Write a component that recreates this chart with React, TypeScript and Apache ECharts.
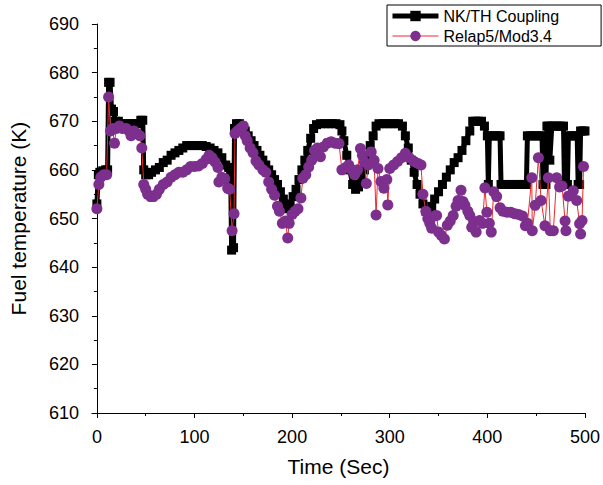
import React, { useEffect, useRef } from "react";
import * as echarts from "echarts";

const FONT = "'Liberation Sans', Arial, sans-serif";

const nkTime = [
  0, 1.5, 3, 6, 9, 11, 12, 13.5, 15, 17, 19, 22, 26, 30, 34, 38, 42, 45, 47, 48,
  50, 53, 56, 60, 64, 68, 72, 76, 80, 84, 88, 92, 96, 100, 104, 108, 112, 116, 120, 124,
  128, 132, 135, 137, 138, 140, 141, 143, 146, 149, 152, 155, 158, 161, 164, 167, 170, 173, 176, 179,
  182, 185, 188, 191, 194, 196, 198, 201, 204, 207, 210, 213, 216, 219, 222, 225, 229, 233, 237, 241,
  245, 249, 251, 253, 256, 259, 262, 265, 268, 271, 274, 277, 280, 283, 286, 289, 293, 297, 301, 305,
  309, 313, 316, 319, 322, 325, 328, 331, 334, 337, 340, 343, 346, 350, 354, 358, 362, 366, 370, 374,
  378, 382, 385, 388, 391, 394, 397, 400, 401, 402, 405, 408, 411, 413, 414, 418, 422, 426, 430, 434,
  438, 440, 441, 444, 447, 450, 453, 456, 457, 460, 461, 463, 464, 466, 469, 472, 475, 478, 479, 482,
  483, 486, 489, 492, 493, 494.5, 495.5, 498, 500
];
const nkTemp = [
  653, 659, 659.5, 659.8, 660, 660, 678, 678, 672.5, 672, 670, 670, 669.5, 669.5, 669.5, 669.5, 669.5, 670.2, 670.2, 660,
  659, 659, 659.5, 660, 660.5, 661.5, 662, 663, 663.5, 664, 664.5, 665, 665, 665, 665, 665, 664.8, 664.5, 664, 663.5,
  662.5, 661, 660.5, 660, 643.5, 644, 668.5, 669.5, 669.5, 669, 668, 667, 666, 665, 664, 663, 662, 661, 660, 659,
  658, 657, 655.5, 654, 652.5, 652, 653, 654.5, 656, 658, 660, 662, 664, 666.5, 668.5, 669.3, 669.5, 669.5, 669.5, 669.5,
  669.5, 669.3, 668, 666, 663, 660, 657, 656, 656.5, 658, 660, 662.5, 665, 667, 669, 669.5, 669.5, 669.5, 669.5, 669.5,
  669.5, 669, 667, 664.5, 662, 659.5, 657, 655, 653, 651.5, 651.5, 652.5, 654, 655.5, 657, 658.5, 660, 661.5, 662.5, 664,
  666, 668, 670, 670, 670, 670, 669, 667, 657, 667, 667, 667, 667, 667, 657, 657, 657, 657, 657, 657,
  657, 657, 667, 667, 667, 667, 667, 667, 657, 657, 669, 669, 662, 669, 669, 669, 669, 669, 657, 657,
  667, 667, 667, 667, 657, 657, 668, 668, 668
];

const relapTime = [
  0, 2, 4, 7, 10, 12, 14, 16, 18, 20, 23, 26, 30, 33, 35, 38, 41, 44, 46, 48,
  50, 52, 55, 58, 61, 64, 68, 72, 76, 80, 84, 88, 92, 96, 100, 104, 108, 112, 115, 118,
  121, 124, 125, 128, 131, 134, 136, 138.5, 140.5, 141.5, 144, 147, 150, 152, 154, 157, 160, 163, 166, 170,
  173, 176, 179, 182, 185, 187, 190, 193, 195.5, 197, 200, 203, 206, 209, 211, 214, 217, 220, 223, 226,
  229, 232, 236, 240, 244, 248, 251, 255, 258, 261, 264, 267, 270, 272, 274, 276, 278, 281, 284, 286,
  288, 291, 294, 297, 298, 300, 304, 308, 312, 316, 320, 325, 329, 332, 334, 337, 339, 341, 343, 346,
  348, 350, 353, 356, 359, 362, 365, 368, 370, 373, 375, 377, 380, 382, 384, 386, 388.5, 392, 395, 397.5,
  399.5, 402, 404, 406.5, 409.5, 413, 416, 420, 424, 428, 432, 436, 439, 441, 445.5, 446, 449, 452.3, 455, 459,
  462.5, 464.5, 467.6, 471, 474, 476.5, 479.6, 480.5, 483, 488, 491.5, 494.5, 495.5, 497, 498.5
];
const relapTemp = [
  652, 657, 658.5, 659, 659, 675, 668, 668.5, 665.5, 668.5, 669, 668.5, 668.5, 668, 667, 668, 667.5, 667, 664.5, 657,
  656, 655, 654.5, 654.5, 655, 656, 657, 657.5, 658.5, 659, 659.5, 659.5, 660, 660.7, 660.7, 660.8, 661.3, 662.2, 663, 662.5,
  661.6, 660.5, 657.5, 658.5, 658.2, 656.2, 656, 647.5, 651, 667.5, 668, 668.5, 669, 667, 666, 664.5, 663.5, 661.8, 661, 660,
  659.5, 657.5, 656, 654.8, 652.5, 651.5, 649, 649.5, 646, 649, 650.8, 651.5, 652, 654.2, 658.3, 659, 660.6, 662, 664, 664.5,
  662.7, 664.7, 665.5, 665.8, 665.5, 665.4, 660, 660.5, 661, 660, 659, 660, 664.4, 663, 661.6, 657.2, 661, 663.7, 662, 650.7,
  660.3, 657.6, 656.2, 658, 652.8, 660.3, 661, 661.7, 662.5, 663.4, 662.5, 661.7, 661.3, 661, 655, 651.5, 650, 649, 648, 650.5,
  650.6, 647.2, 646.5, 645.8, 648.6, 649.5, 650.6, 652.5, 653.7, 655.8, 653.5, 652.7, 651.5, 650.6, 648.2, 649.4, 647.2, 649.6, 649, 656.3,
  651.3, 649, 647.2, 655.5, 654.5, 652.2, 651.5, 651.3, 651.3, 651, 650.8, 650.5, 648.5, 649, 658.4, 647.5, 652.7, 662.5, 653.7, 648.5,
  658.4, 647.5, 647.5, 658.4, 656.5, 656.7, 649.5, 647.5, 654.6, 655.7, 653.7, 648.9, 646.8, 649.6, 660.7
];

const xMajorTicks = [0, 100, 200, 300, 400, 500];
const xMinorTicks = [50, 150, 250, 350, 450];

const seriesNames = ["NK/TH Coupling", "Relap5/Mod3.4"];

export default function App() {
  const ref = useRef<HTMLDivElement>(null);
  useEffect(() => {
    if (!ref.current) return;
    const chart = echarts.init(ref.current, null, { renderer: "svg" });
    const nkData = nkTime.map((t, i) => [t, nkTemp[i]]);
    const relapData = relapTime.map((t, i) => [t, relapTemp[i]]);
    const labelStyle = { color: "#000", fontSize: 18, fontFamily: FONT };
    chart.setOption({
      animation: false,
      backgroundColor: "#fff",
      grid: { left: 92, right: 17, top: 24, bottom: 72, containLabel: false },
      legend: {
        left: 387,
        top: 5,
        orient: "vertical",
        itemWidth: 46,
        itemHeight: 13,
        itemGap: 4,
        padding: [3, 42, 2, 3],
        borderColor: "#000",
        borderWidth: 1,
        lineStyle: { width: "inherit" },
        textStyle: { fontSize: 16, color: "#000", fontFamily: FONT },
        data: seriesNames,
      },
      xAxis: [
        {
          type: "value",
          min: -5,
          max: 500,
          name: "Time (Sec)",
          nameLocation: "middle",
          nameGap: 43,
          nameTextStyle: { fontSize: 21, color: "#000", fontFamily: FONT },
          axisLine: { show: true, lineStyle: { color: "#000", width: 1 } },
          axisTick: { show: true, inside: false, length: 5, customValues: xMajorTicks, lineStyle: { color: "#000" } },
          axisLabel: { ...labelStyle, margin: 15, customValues: xMajorTicks },
          splitLine: { show: false },
        },
        {
          type: "value",
          min: -5,
          max: 500,
          position: "bottom",
          axisLine: { show: false },
          axisTick: { show: true, inside: false, length: 3, customValues: xMinorTicks, lineStyle: { color: "#000" } },
          axisLabel: { show: false },
          splitLine: { show: false },
        },
      ],
      yAxis: {
        type: "value",
        min: 610,
        max: 690,
        interval: 10,
        name: "Fuel temperature (K)",
        nameLocation: "middle",
        nameGap: 63,
        nameTextStyle: { fontSize: 21, color: "#000", fontFamily: FONT },
        axisLine: { show: true, lineStyle: { color: "#000", width: 1 } },
        axisTick: { show: true, inside: false, length: 5, lineStyle: { color: "#000" } },
        minorTick: { show: true, splitNumber: 2, length: 3, lineStyle: { color: "#000" } },
        axisLabel: { ...labelStyle, margin: 13 },
        splitLine: { show: false },
      },
      series: [
        {
          name: seriesNames[0],
          type: "line",
          xAxisIndex: 0,
          data: nkData,
          symbol: "rect",
          symbolSize: 9,
          itemStyle: { color: "#000" },
          lineStyle: { color: "#000", width: 5 },
          z: 2,
        },
        {
          name: seriesNames[1],
          type: "line",
          xAxisIndex: 0,
          data: relapData,
          symbol: "circle",
          symbolSize: 11,
          itemStyle: { color: "#7D2F8E" },
          lineStyle: { color: "#F0282A", width: 1 },
          z: 3,
        },
      ],
    });
    return () => chart.dispose();
  }, []);
  return (
    <div
      ref={ref}
      style={{ position: "absolute", left: 0, top: 0, width: 603, height: 485 }}
    />
  );
}
